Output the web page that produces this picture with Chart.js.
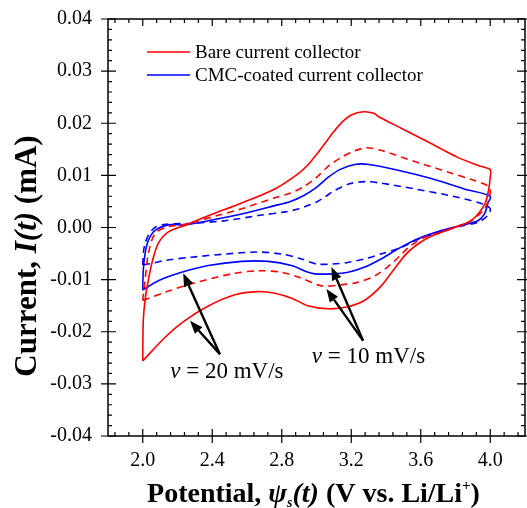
<!DOCTYPE html>
<html>
<head>
<meta charset="utf-8">
<script src="https://cdn.jsdelivr.net/npm/chart.js@4.4.1/dist/chart.umd.min.js"></script>
<style>
  html, body { margin: 0; padding: 0; background: #fff; }
  #cv { display: block; }
</style>
</head>
<body>
<canvas id="cv" width="527" height="508"></canvas>
<script>
// Cyclic voltammetry loops, each sweep goes 2.0 V -> 4.0 V -> 2.0 V
// Bare collector, 20 mV/s
const bare20Potential = [2.000, 2.003, 2.015, 2.030, 2.055, 2.090, 2.150, 2.250, 2.380, 2.570, 2.760, 2.890, 2.950, 3.000, 3.050, 3.100, 3.150, 3.200, 3.270, 3.330, 3.360, 3.490, 3.660, 3.810, 3.930, 4.000,
                         4.000, 3.990, 3.970, 3.930, 3.880, 3.800, 3.720, 3.640, 3.570, 3.510, 3.440, 3.370, 3.280, 3.180, 3.070, 2.950, 2.860, 2.760, 2.660, 2.530, 2.380, 2.240, 2.130, 2.000];
const bare20Current = [-0.0256, -0.0179, -0.0135, -0.0105, -0.0065, -0.0030, -0.0008, 0.0005, 0.0023, 0.0047, 0.0074, 0.0102, 0.0120, 0.0140, 0.0162, 0.0184, 0.0203, 0.0216, 0.0222, 0.0219, 0.0212, 0.0190, 0.0161, 0.0135, 0.0119, 0.0111,
                       0.0097, 0.0071, 0.0046, 0.0026, 0.0011, 0.0001, -0.0009, -0.0020, -0.0035, -0.0053, -0.0083, -0.0113, -0.0139, -0.0152, -0.0156, -0.0150, -0.0136, -0.0126, -0.0123, -0.0129, -0.0150, -0.0179, -0.0210, -0.0256];

// Bare collector, 10 mV/s
const bare10Potential = [2.000, 2.013, 2.032, 2.070, 2.150, 2.240, 2.430, 2.570, 2.760, 2.850, 2.930, 3.000, 3.070, 3.140, 3.220, 3.290, 3.370, 3.570, 3.760, 3.910, 3.980, 4.000,
                         3.990, 3.960, 3.890, 3.810, 3.720, 3.620, 3.530, 3.490, 3.430, 3.340, 3.240, 3.140, 3.030, 2.910, 2.800, 2.660, 2.510, 2.280, 2.130, 2.000];
const bare10Current = [-0.0140, -0.0102, -0.0051, -0.0012, 0.0002, 0.0006, 0.0023, 0.0036, 0.0057, 0.0066, 0.0079, 0.0096, 0.0118, 0.0134, 0.0147, 0.0153, 0.0148, 0.0126, 0.0106, 0.0090, 0.0081, 0.0074,
                       0.0052, 0.0033, 0.0013, 0.0002, -0.0009, -0.0019, -0.0038, -0.0051, -0.0070, -0.0092, -0.0105, -0.0110, -0.0112, -0.0097, -0.0086, -0.0083, -0.0089, -0.0108, -0.0124, -0.0140];

// CMC-coated collector, 20 mV/s
const cmc20Potential = [2.000, 2.003, 2.013, 2.032, 2.070, 2.147, 2.243, 2.377, 2.569, 2.760, 2.850, 2.930, 3.000, 3.070, 3.140, 3.220, 3.300, 3.470, 3.660, 3.850, 4.000,
                        3.986, 3.967, 3.929, 3.833, 3.718, 3.580, 3.469, 3.374, 3.278, 3.182, 3.086, 2.991, 2.952, 2.856, 2.722, 2.569, 2.377, 2.224, 2.090, 2.000];
const cmc20Current = [-0.0120, -0.0083, -0.0051, -0.0025, -0.0006, 0.0005, 0.0005, 0.0013, 0.0026, 0.0042, 0.0050, 0.0062, 0.0077, 0.0097, 0.0112, 0.0121, 0.0121, 0.0110, 0.0094, 0.0074, 0.0060,
                      0.0046, 0.0026, 0.0013, 0.0004, -0.0006, -0.0022, -0.0041, -0.0060, -0.0076, -0.0086, -0.0089, -0.0089, -0.0086, -0.0073, -0.0065, -0.0065, -0.0073, -0.0086, -0.0102, -0.0120];

// CMC-coated collector, 10 mV/s
const cmc10Potential = [2.000, 2.005, 2.013, 2.032, 2.070, 2.130, 2.282, 2.473, 2.664, 2.820, 2.900, 2.950, 3.000, 3.050, 3.100, 3.190, 3.280, 3.374, 3.565, 3.756, 3.948, 4.000,
                        3.985, 3.930, 3.810, 3.680, 3.590, 3.490, 3.370, 3.280, 3.180, 3.090, 3.000, 2.910, 2.800, 2.660, 2.470, 2.280, 2.130, 2.050, 2.000];
const cmc10Current = [-0.0072, -0.0045, -0.0031, -0.0015, 0.0000, 0.0006, 0.0008, 0.0013, 0.0023, 0.0030, 0.0036, 0.0042, 0.0049, 0.0059, 0.0070, 0.0084, 0.0088, 0.0085, 0.0074, 0.0062, 0.0046, 0.0036,
                      0.0023, 0.0010, 0.0001, -0.0012, -0.0022, -0.0038, -0.0051, -0.0060, -0.0067, -0.0070, -0.0070, -0.0060, -0.0051, -0.0047, -0.0051, -0.0057, -0.0063, -0.0069, -0.0072];

const xTickValues = [2.0, 2.4, 2.8, 3.2, 3.6, 4.0];
const yTickValues = [-0.04, -0.03, -0.02, -0.01, 0.00, 0.01, 0.02, 0.03, 0.04];

const legendLabels = ['Bare current collector', 'CMC-coated current collector'];
const legendColors = ['#ff0000', '#0000ff'];

// Scan-rate callouts: text anchor plus the arrow tips it points to
const rateNotes = [
  { rate: '20', text: [2.158, -0.0288], from: [2.444, -0.0243], tips: [[2.233, -0.0088], [2.272, -0.0179]] },
  { rate: '10', text: [2.973, -0.0260], from: [3.268, -0.0217], tips: [[3.086, -0.0076], [3.057, -0.0118]] }
];

const SERIF = '"Liberation Serif", "Times New Roman", serif';

function toPoints(xs, ys) {
  return xs.map((v, i) => ({ x: v, y: ys[i] }));
}

function loop(label, xs, ys, color, dashed) {
  return {
    label: label,
    data: toPoints(xs, ys),
    borderColor: color,
    backgroundColor: color,
    borderWidth: 1.6,
    borderDash: dashed ? [7, 5] : [],
    pointRadius: 0,
    showLine: true,
    tension: 0.3,
    fill: false
  };
}

// Draw text pieces one after the other with their own fonts
function drawRuns(ctx, runs, x, y) {
  for (const r of runs) {
    ctx.font = r.font;
    ctx.fillText(r.text, x, y + (r.dy || 0));
    x += ctx.measureText(r.text).width;
  }
}

function runsWidth(ctx, runs) {
  let w = 0;
  for (const r of runs) {
    ctx.font = r.font;
    w += ctx.measureText(r.text).width;
  }
  return w;
}

// Box around the plot with inner ticks on every side
const frameTicks = {
  id: 'frameTicks',
  afterDatasetsDraw(chart) {
    const { ctx, chartArea: a, scales: { x, y } } = chart;
    ctx.save();
    ctx.strokeStyle = '#000';
    ctx.lineWidth = 1.5;
    ctx.strokeRect(a.left, a.top, a.right - a.left, a.bottom - a.top);

    ctx.lineWidth = 1.2;
    ctx.beginPath();
    for (let k = -2; k <= 27; k++) {
      const px = x.getPixelForValue(2.0 + k * 0.08);
      const major = k % 5 === 0;
      const len = major ? 7 : 4;
      ctx.moveTo(px, a.bottom + (major ? 7 : 0));
      ctx.lineTo(px, a.bottom - len);
      ctx.moveTo(px, a.top);
      ctx.lineTo(px, a.top + len);
    }
    for (let k = 0; k <= 40; k++) {
      const py = y.getPixelForValue(-0.04 + k * 0.002);
      const major = k % 5 === 0;
      const len = major ? 8 : 4;
      ctx.moveTo(a.left - (major ? 7 : 0), py);
      ctx.lineTo(a.left + len, py);
      ctx.moveTo(a.right + (major ? 7 : 0), py);
      ctx.lineTo(a.right - len, py);
    }
    ctx.stroke();
    ctx.restore();
  }
};

// Legend, scan-rate arrows and axis titles
const notes = {
  id: 'notes',
  afterDraw(chart) {
    const { ctx, chartArea: a, scales: { x, y } } = chart;
    ctx.save();

    // legend
    ctx.textBaseline = 'middle';
    ctx.font = '19px ' + SERIF;
    legendLabels.forEach((t, i) => {
      const ly = a.top + 33 + i * 23;
      ctx.strokeStyle = legendColors[i];
      ctx.lineWidth = 1.6;
      ctx.beginPath();
      ctx.moveTo(a.left + 39, ly);
      ctx.lineTo(a.left + 82, ly);
      ctx.stroke();
      ctx.fillStyle = '#000';
      ctx.fillText(t, a.left + 87, ly + 1);
    });

    // arrows
    ctx.strokeStyle = '#000';
    ctx.fillStyle = '#000';
    ctx.lineWidth = 2.4;
    for (const n of rateNotes) {
      const fx = x.getPixelForValue(n.from[0]);
      const fy = y.getPixelForValue(n.from[1]);
      for (const t of n.tips) {
        const tx = x.getPixelForValue(t[0]);
        const ty = y.getPixelForValue(t[1]);
        const ang = Math.atan2(ty - fy, tx - fx);
        const hl = 13, hw = 5;
        const bx = tx - hl * Math.cos(ang), by = ty - hl * Math.sin(ang);
        ctx.beginPath();
        ctx.moveTo(fx, fy);
        ctx.lineTo(bx, by);
        ctx.stroke();
        ctx.beginPath();
        ctx.moveTo(tx, ty);
        ctx.lineTo(bx + hw * Math.sin(ang), by - hw * Math.cos(ang));
        ctx.lineTo(bx - hw * Math.sin(ang), by + hw * Math.cos(ang));
        ctx.closePath();
        ctx.fill();
      }
      ctx.textBaseline = 'alphabetic';
      drawRuns(ctx, [
        { text: '\u03bd', font: 'italic 23px ' + SERIF },
        { text: ' = ', font: '23px ' + SERIF },
        { text: n.rate + ' mV/s', font: '23px ' + SERIF }
      ], x.getPixelForValue(n.text[0]), y.getPixelForValue(n.text[1]));
    }

    // x axis title
    ctx.textBaseline = 'alphabetic';
    const xRuns = [
      { text: 'Potential, ', font: 'bold 28px ' + SERIF },
      { text: '\u03c8', font: 'italic bold 28px ' + SERIF },
      { text: 's', font: 'italic bold 14px ' + SERIF, dy: 5 },
      { text: '(t)', font: 'italic bold 28px ' + SERIF },
      { text: ' (V vs. Li/Li', font: 'bold 28px ' + SERIF },
      { text: '+', font: 'bold 15px ' + SERIF, dy: -12 },
      { text: ')', font: 'bold 28px ' + SERIF }
    ];
    const xw = runsWidth(ctx, xRuns);
    drawRuns(ctx, xRuns, 313.5 - xw / 2, 502);

    // y axis title
    const yRuns = [
      { text: 'Current, ', font: 'bold 31px ' + SERIF },
      { text: 'I(t)', font: 'italic bold 31px ' + SERIF },
      { text: ' (mA)', font: 'bold 31px ' + SERIF }
    ];
    const yw = runsWidth(ctx, yRuns);
    ctx.translate(36, 256);
    ctx.rotate(-Math.PI / 2);
    drawRuns(ctx, yRuns, -yw / 2, 0);
    ctx.restore();
  }
};

const chart = new Chart(document.getElementById('cv'), {
  type: 'scatter',
  data: {
    datasets: [
      loop('Bare 20 mV/s', bare20Potential, bare20Current, '#ff0000', false),
      loop('Bare 10 mV/s', bare10Potential, bare10Current, '#ff0000', true),
      loop('CMC 20 mV/s', cmc20Potential, cmc20Current, '#0000ff', false),
      loop('CMC 10 mV/s', cmc10Potential, cmc10Current, '#0000ff', true)
    ]
  },
  options: {
    responsive: false,
    animation: false,
    devicePixelRatio: 1,
    layout: { padding: { top: 19, right: 2, left: 0, bottom: 0 } },
    plugins: {
      legend: { display: false },
      tooltip: { enabled: false }
    },
    scales: {
      x: {
        type: 'linear',
        min: 1.8,
        max: 4.2,
        afterBuildTicks: s => { s.ticks = xTickValues.map(v => ({ value: v })); },
        afterFit: s => { s.height = 72; s.paddingLeft = 0; s.paddingRight = 0; },
        grid: { display: false, drawTicks: false },
        border: { display: false },
        ticks: {
          callback: v => v.toFixed(1),
          color: '#000',
          padding: 13,
          maxRotation: 0,
          font: { family: SERIF, size: 20 }
        }
      },
      y: {
        type: 'linear',
        min: -0.04,
        max: 0.04,
        afterBuildTicks: s => { s.ticks = yTickValues.map(v => ({ value: v })); },
        afterFit: s => { s.width = 108; s.paddingTop = 0; s.paddingBottom = 0; },
        grid: { display: false, drawTicks: false },
        border: { display: false },
        ticks: {
          callback: v => v.toFixed(2),
          color: '#000',
          padding: 16,
          font: { family: SERIF, size: 20 }
        }
      }
    }
  },
  plugins: [frameTicks, notes]
});
</script>
</body>
</html>
